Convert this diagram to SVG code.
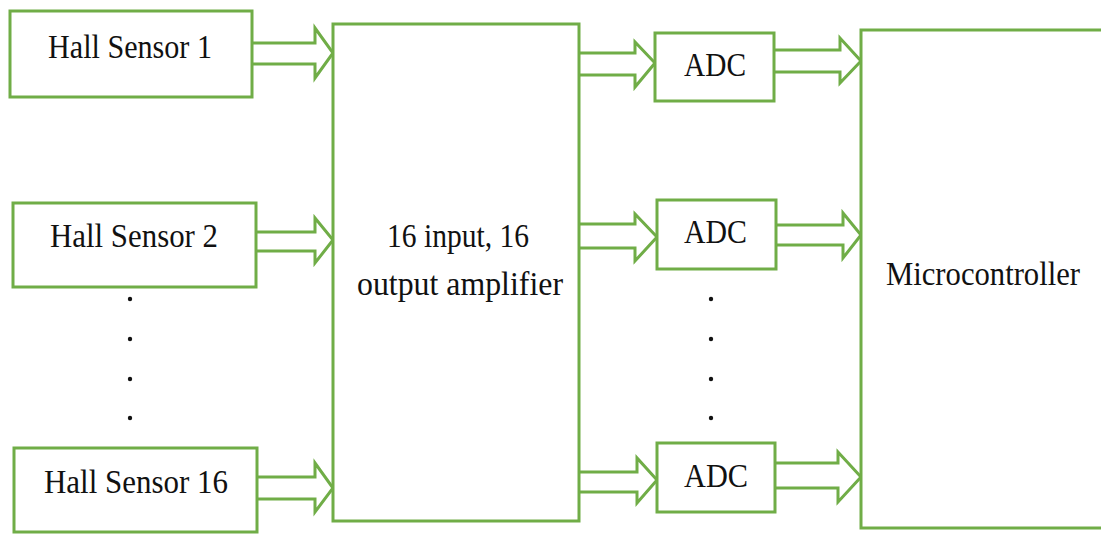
<svg xmlns="http://www.w3.org/2000/svg" width="1101" height="535" viewBox="0 0 1101 535">
<style>
.box{fill:#fff;stroke:#70AD47;stroke-width:3}
.arr{fill:#fff;stroke:#70AD47;stroke-width:3;stroke-linejoin:miter}
.t{font-family:"Liberation Serif","Times New Roman",serif;font-size:33.5px;fill:#111}
.dot{fill:#111}
</style>
<rect width="1101" height="535" fill="#fff"/>
<g id="connectors">
<path class="arr" d="M252,43 H315 V28 L333,53 L315,78 V64 H252"/>
<path class="arr" d="M256,232 H315 V218 L333,240 L315,263 V251 H256"/>
<path class="arr" d="M257,477 H315 V463 L333,488 L315,512 V499 H257"/>
<path class="arr" d="M579,53 H635 V42 L655,63 L635,87 V75 H579"/>
<path class="arr" d="M579,224 H635 V214 L657,237 L635,261 V248 H579"/>
<path class="arr" d="M579,472 H637 V458 L657,480 L637,503 V492 H579"/>
<path class="arr" d="M774,50 H840 V38 L861,61 L840,83 V72 H774"/>
<path class="arr" d="M776,225 H843 V213 L861,235 L843,258 V245 H776"/>
<path class="arr" d="M775,463 H838 V452 L861,477 L838,502 V488 H775"/>
</g>
<g id="hs1"><rect class="box" x="10" y="11" width="242" height="86"/><text class="t" x="48" y="58" textLength="164" lengthAdjust="spacingAndGlyphs">Hall Sensor 1</text></g>
<g id="hs2"><rect class="box" x="13" y="203" width="243" height="84"/><text class="t" x="50" y="247" textLength="168" lengthAdjust="spacingAndGlyphs">Hall Sensor 2</text></g>
<g id="hs16"><rect class="box" x="14" y="448" width="243" height="84"/><text class="t" x="44" y="493" textLength="184" lengthAdjust="spacingAndGlyphs">Hall Sensor 16</text></g>
<g id="dots-left"><circle class="dot" cx="130" cy="299" r="2.2"/><circle class="dot" cx="130" cy="339" r="2.2"/><circle class="dot" cx="130" cy="379" r="2.2"/><circle class="dot" cx="130" cy="418" r="2.2"/></g>
<g id="amp"><rect class="box" x="333" y="24" width="246" height="497"/><text class="t" x="387" y="247" textLength="142" lengthAdjust="spacingAndGlyphs">16 input, 16</text><text class="t" x="357" y="295" textLength="206" lengthAdjust="spacingAndGlyphs">output amplifier</text></g>
<g id="adc1"><rect class="box" x="655" y="33" width="119" height="68"/><text class="t" x="684" y="76" textLength="62" lengthAdjust="spacingAndGlyphs">ADC</text></g>
<g id="adc2"><rect class="box" x="657" y="200" width="119" height="69"/><text class="t" x="684" y="243" textLength="63" lengthAdjust="spacingAndGlyphs">ADC</text></g>
<g id="adc3"><rect class="box" x="657" y="443" width="118" height="69"/><text class="t" x="684" y="487" textLength="64" lengthAdjust="spacingAndGlyphs">ADC</text></g>
<g id="dots-right"><circle class="dot" cx="711" cy="299" r="2.2"/><circle class="dot" cx="711" cy="339" r="2.2"/><circle class="dot" cx="711" cy="379" r="2.2"/><circle class="dot" cx="711" cy="418" r="2.2"/></g>
<g id="micro"><rect class="box" x="861" y="30" width="260" height="498"/><text class="t" x="886" y="285" textLength="194" lengthAdjust="spacingAndGlyphs">Microcontroller</text></g>
</svg>
